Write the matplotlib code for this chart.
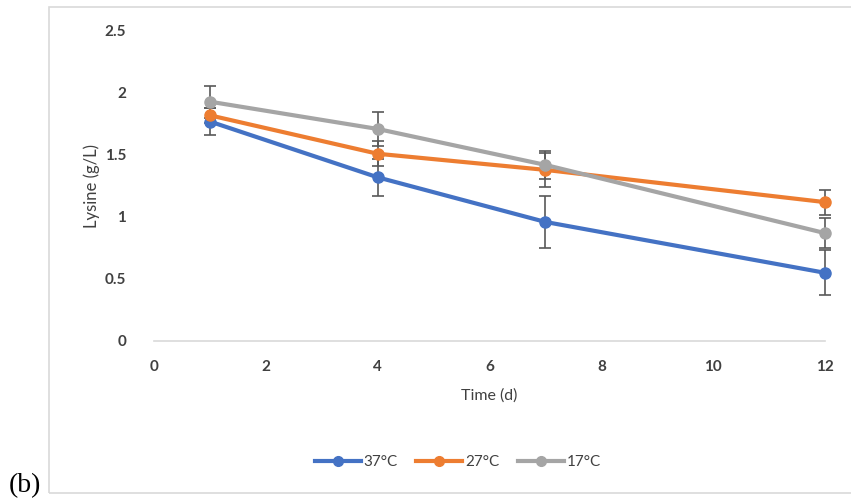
import matplotlib.pyplot as plt
from matplotlib.lines import Line2D
from matplotlib.patches import Rectangle

plt.rcParams['font.family'] = ['Lato', 'DejaVu Sans']

days = [1, 4, 7, 12]
labels = ["37°C", "27°C", "17°C"]
lys_37 = [1.77, 1.32, 0.96, 0.55]
lys_27 = [1.82, 1.51, 1.38, 1.12]
lys_17 = [1.93, 1.71, 1.42, 0.87]
err_37 = [0.11, 0.15, 0.21, 0.18]
err_27 = [0.06, 0.10, 0.14, 0.10]
err_17 = [0.13, 0.14, 0.11, 0.12]
colors = ['#4472C4', '#ED7D31', '#A5A5A5']

fig = plt.figure(figsize=(8.51, 5.03), dpi=100)
ax = fig.add_axes([154 / 851, (503 - 341) / 503, (825 - 154) / 851, 310 / 503])

# chart frame
fig.patches.append(Rectangle((49 / 851, 10 / 503), 810 / 851, 486 / 503,
                             transform=fig.transFigure, fill=False,
                             edgecolor='#d9d9d9', linewidth=1.2))

handles = []
for y, e, c, lab in zip([lys_37, lys_27, lys_17], [err_37, err_27, err_17], colors, labels):
    ax.errorbar(days, y, yerr=e, color=c, ecolor='#595959', elinewidth=1.2,
                capsize=4, capthick=1.2, marker='o', markersize=8,
                linewidth=3, clip_on=False, zorder=3)
    handles.append(Line2D([], [], color=c, marker='o', markersize=7,
                          linewidth=3, label=lab))

ax.set_xlim(0, 12)
ax.set_ylim(0, 2.5)
ax.set_xticks([0, 2, 4, 6, 8, 10, 12])
ax.set_yticks([0, 0.5, 1, 1.5, 2, 2.5])
ax.set_yticklabels(['0', '0.5', '1', '1.5', '2', '2.5'])
for s in ['top', 'right', 'left']:
    ax.spines[s].set_visible(False)
ax.spines['bottom'].set_color('#d9d9d9')
ax.spines['bottom'].set_linewidth(1.2)
ax.tick_params(length=0, labelsize=11, colors='#404040', pad=14)
ax.tick_params(axis='y', pad=20)
for t in ax.get_xticklabels() + ax.get_yticklabels():
    t.set_fontweight('bold')
ax.set_xlabel("Time (d)", fontsize=11.5, color='#404040', labelpad=10)
ax.set_ylabel("Lysine (g/L)", fontsize=12, color='#404040')
ax.yaxis.set_label_coords(-54 / 671, 0.5)

ax.legend(handles=handles, loc='center', bbox_to_anchor=(458 / 851, 1 - 462 / 503),
          bbox_transform=fig.transFigure, ncol=3, frameon=False,
          fontsize=11, handlelength=3, columnspacing=1.2, handletextpad=0.2,
          labelcolor='#404040')

fig.text(9 / 851, 1 - 486 / 503, "(b)", family='Liberation Serif', fontsize=20,
         va='center')

plt.savefig("out.png", dpi=100)
